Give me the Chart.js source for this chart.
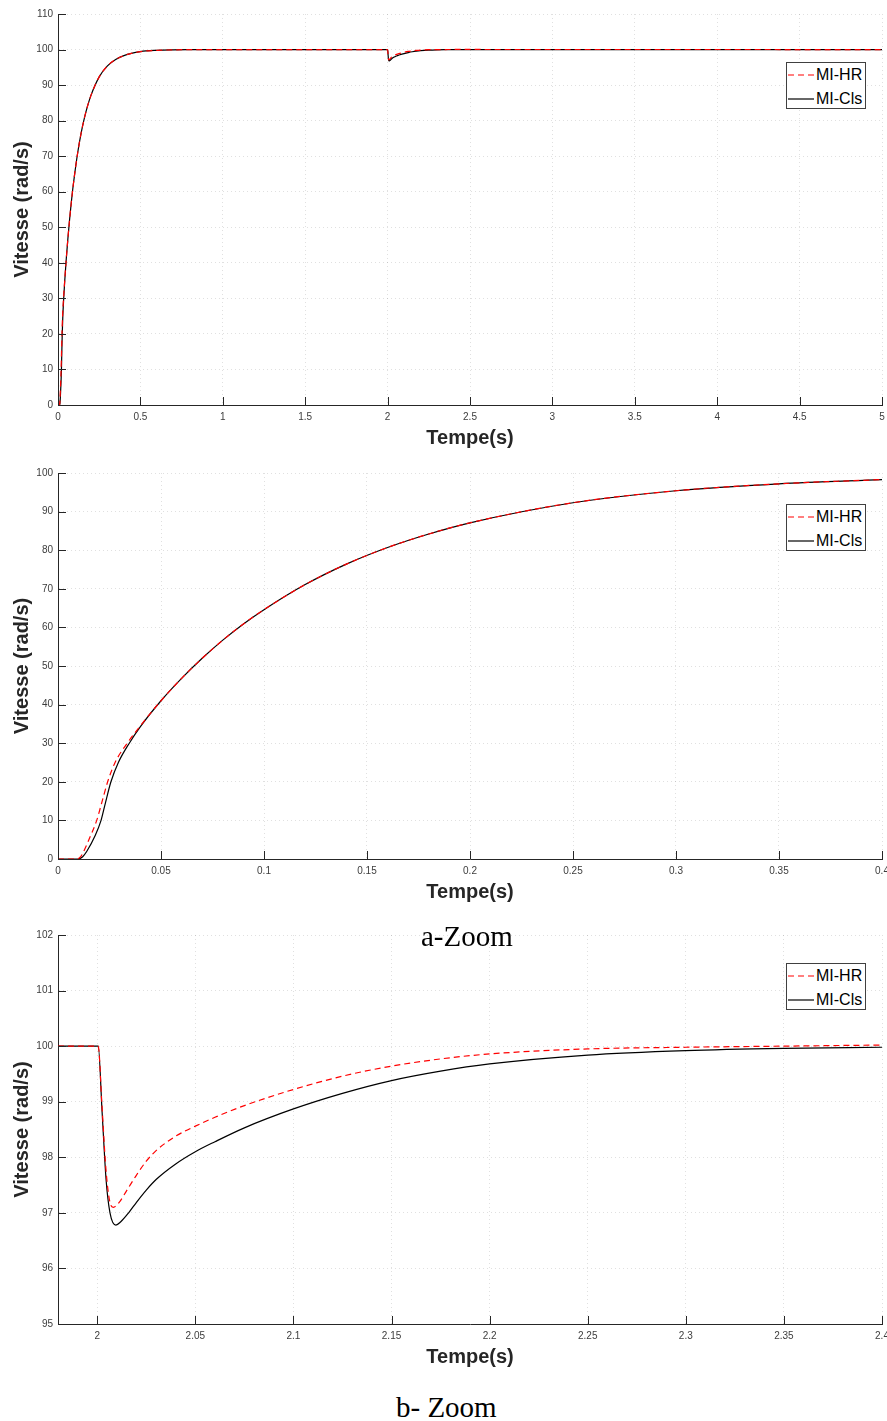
<!DOCTYPE html>
<html>
<head>
<meta charset="utf-8">
<title>Vitesse MI-HR / MI-Cls</title>
<script src="https://cdn.jsdelivr.net/npm/chart.js@4/dist/chart.umd.min.js"></script>
<style>
  html, body { margin: 0; padding: 0; background: #fff; }
  #page { position: relative; width: 887px; height: 1421px; overflow: hidden; background: #fff; }
  .plot { position: absolute; left: 0; width: 887px; }
  .legend {
    position: absolute; box-sizing: border-box; width: 80px; height: 47px;
    border: 1px solid #404040; background: #fff;
    font: 16px "Liberation Sans", Arial, sans-serif; color: #000; z-index: 2;
  }
  .legend .row { position: absolute; left: 0; height: 20px; line-height: 20px; white-space: nowrap; }
  .legend svg { position: absolute; left: 1px; top: 9px; }
  .legend span { position: absolute; left: 29px; top: 0; }
  .caption {
    position: absolute; left: 0; width: 887px; z-index: 3;
    font: 29px "Liberation Serif", "Times New Roman", serif; line-height: 29px; color: #000;
  }
</style>
</head>
<body>
<div id="page">
  <canvas id="c1" class="plot" width="887" height="460" style="top:0px"></canvas>
  <canvas id="c2" class="plot" width="887" height="454" style="top:460px"></canvas>
  <canvas id="c3" class="plot" width="887" height="459" style="top:920px"></canvas>
  <div id="leg1" class="legend" style="left:786px; top:62px"></div>
  <div id="leg2" class="legend" style="left:786px; top:504px"></div>
  <div id="leg3" class="legend" style="left:786px; top:963px"></div>
  <div class="caption" style="top:922px; left:421px; width:auto">a-Zoom</div>
  <div class="caption" style="top:1393px; left:396px; width:auto">b- Zoom</div>
</div>
<script>
// ---- Démarrage à vide (0 - 0.4 s) ----
const tDemHR  = [0, 0.009, 0.011, 0.0125, 0.0158, 0.0188, 0.0212, 0.0241, 0.0277, 0.0336, 0.04, 0.05, 0.06, 0.07, 0.08, 0.09, 0.1, 0.12, 0.14, 0.16, 0.18, 0.2, 0.25, 0.3, 0.35, 0.4];
const vDemHR  = [0, 0, 0.6, 2, 6, 10, 14.5, 20, 25, 30, 34.5, 41, 46.8, 52.0, 56.7, 60.9, 64.6, 71.1, 76.4, 80.7, 84.2, 87.1, 92.3, 95.4, 97.2, 98.3];
const tDemCls = [0, 0.0097, 0.012, 0.014, 0.018, 0.0209, 0.023, 0.0257, 0.0293, 0.0346, 0.04, 0.05, 0.06, 0.07, 0.08, 0.09, 0.1, 0.12, 0.14, 0.16, 0.18, 0.2, 0.25, 0.3, 0.35, 0.4];
const vDemCls = [0, 0, 0.6, 2, 6, 10, 14.5, 20, 25, 30, 34.3, 41, 46.8, 52.0, 56.7, 60.9, 64.6, 71.1, 76.4, 80.7, 84.2, 87.1, 92.3, 95.4, 97.2, 98.3];

// ---- Régime établi avant la charge ----
const tStab = [0.5, 0.6, 0.7, 0.8, 1.0];
const vStab = [99.4, 99.78, 99.92, 99.97, 100];

// ---- Application de la charge à t = 2 s (1.98 - 2.4 s) ----
const tChHR  = [1.98, 2.0005, 2.0023, 2.0044, 2.0064, 2.0082, 2.011, 2.015, 2.02, 2.025, 2.03, 2.04, 2.05, 2.06, 2.075, 2.1, 2.125, 2.15, 2.175, 2.2, 2.25, 2.3, 2.35, 2.4];
const vChHR  = [100, 100, 99.0, 97.8, 97.2, 97.1, 97.18, 97.4, 97.68, 97.93, 98.12, 98.38, 98.56, 98.72, 98.93, 99.22, 99.46, 99.64, 99.77, 99.86, 99.95, 99.98, 100.0, 100.02];
const tChCls = [1.98, 2.0005, 2.0025, 2.0045, 2.0065, 2.0095, 2.012, 2.016, 2.02, 2.025, 2.03, 2.04, 2.05, 2.06, 2.075, 2.1, 2.125, 2.15, 2.175, 2.2, 2.25, 2.3, 2.35, 2.4];
const vChCls = [100, 100, 98.8, 97.6, 97.0, 96.78, 96.84, 97.0, 97.19, 97.41, 97.6, 97.88, 98.1, 98.28, 98.53, 98.87, 99.15, 99.38, 99.55, 99.68, 99.84, 99.92, 99.96, 99.98];

// ---- Fin de simulation ----
const tFin = [5];
const vFin = [100];

// ---- Graduations ----
const xTicks1 = [0, 0.5, 1, 1.5, 2, 2.5, 3, 3.5, 4, 4.5, 5];
const xLabels1 = ['0', '0.5', '1', '1.5', '2', '2.5', '3', '3.5', '4', '4.5', '5'];
const yTicks1 = [0, 10, 20, 30, 40, 50, 60, 70, 80, 90, 100, 110];
const xTicks2 = [0, 0.05, 0.1, 0.15, 0.2, 0.25, 0.3, 0.35, 0.4];
const xLabels2 = ['0', '0.05', '0.1', '0.15', '0.2', '0.25', '0.3', '0.35', '0.4'];
const yTicks2 = [0, 10, 20, 30, 40, 50, 60, 70, 80, 90, 100];
const xTicks3 = [2, 2.05, 2.1, 2.15, 2.2, 2.25, 2.3, 2.35, 2.4];
const xLabels3 = ['2', '2.05', '2.1', '2.15', '2.2', '2.25', '2.3', '2.35', '2.4'];
const yTicks3 = [95, 96, 97, 98, 99, 100, 101, 102];

const seriesNames = ['MI-HR', 'MI-Cls'];
const seriesColors = ['#ff0000', '#000000'];
const seriesDash = [[6, 4], []];

const FONT = '"Liberation Sans", Arial, Helvetica, sans-serif';
const AXIS = '#262626';
const TICKTXT = '#3c3c3c';
const GRID = 'rgba(38,38,38,0.14)';

const pts = (ts, vs) => ts.map((t, i) => ({ x: t, y: vs[i] }));

// Graduations tournées vers l'intérieur du tracé
const ticksInward = {
  id: 'ticksInward',
  afterDraw(chart) {
    const { ctx, chartArea: a, scales: { x, y } } = chart;
    ctx.save();
    ctx.strokeStyle = AXIS;
    ctx.lineWidth = 1;
    ctx.setLineDash([]);
    ctx.beginPath();
    x.ticks.forEach(t => {
      const px = Math.round(x.getPixelForValue(t.value)) + 0.5;
      ctx.moveTo(px, a.bottom);
      ctx.lineTo(px, a.bottom - 8);
    });
    y.ticks.forEach(t => {
      const py = Math.round(y.getPixelForValue(t.value)) + 0.5;
      ctx.moveTo(a.left, py);
      ctx.lineTo(a.left + 8, py);
    });
    ctx.stroke();
    ctx.restore();
  }
};

function axisX(min, max, ticks, labels) {
  return {
    type: 'linear', min, max,
    afterBuildTicks: s => { s.ticks = ticks.map(v => ({ value: v })); },
    afterFit: s => { s.height = 55; s.paddingLeft = 0; s.paddingRight = 0; },
    ticks: {
      autoSkip: false, maxRotation: 0, minRotation: 0, padding: 6, color: TICKTXT,
      font: { family: FONT, size: 10 },
      callback: (v, i) => labels[i]
    },
    grid: { color: GRID, lineWidth: 1, drawTicks: false },
    border: { display: true, color: AXIS, width: 1, dash: [1, 3] },
    title: {
      display: true, text: 'Tempe(s)', color: AXIS,
      font: { family: FONT, size: 20, weight: 'bold' },
      padding: { top: 0, bottom: 10 }
    }
  };
}

function axisY(min, max, ticks) {
  return {
    type: 'linear', min, max,
    afterBuildTicks: s => { s.ticks = ticks.map(v => ({ value: v })); },
    afterFit: s => { s.width = 58; s.paddingTop = 0; s.paddingBottom = 0; },
    ticks: {
      autoSkip: false, padding: 5, color: TICKTXT,
      font: { family: FONT, size: 10 },
      callback: (v, i) => String(ticks[i])
    },
    grid: { color: GRID, lineWidth: 1, drawTicks: false },
    border: { display: true, color: AXIS, width: 1, dash: [1, 3] },
    title: {
      display: true, text: 'Vitesse (rad/s)', color: AXIS,
      font: { family: FONT, size: 20, weight: 'bold' },
      padding: { top: 10, bottom: 0 }
    }
  };
}

function makeDatasets(hr, cls) {
  return [hr, cls].map((d, i) => ({
    label: seriesNames[i],
    data: d,
    borderColor: seriesColors[i],
    borderWidth: 1.2,
    borderDash: seriesDash[i],
    pointRadius: 0,
    fill: false,
    cubicInterpolationMode: 'monotone'
  }));
}

function makeChart(id, padTop, datasets, xAxis, yAxis) {
  return new Chart(document.getElementById(id), {
    type: 'line',
    data: { datasets },
    options: {
      responsive: false,
      animation: false,
      events: [],
      layout: { padding: { top: padTop, right: 5, bottom: 0, left: 0 } },
      scales: { x: xAxis, y: yAxis },
      plugins: { legend: { display: false }, tooltip: { enabled: false } }
    },
    plugins: [ticksInward]
  });
}

function makeLegend(id) {
  const box = document.getElementById(id);
  seriesNames.forEach((name, i) => {
    const row = document.createElement('div');
    row.className = 'row';
    row.style.top = (2 + i * 24) + 'px';
    const dash = seriesDash[i].length ? `stroke-dasharray="${seriesDash[i].join(' ')}"` : '';
    row.innerHTML =
      `<svg width="26" height="2"><line x1="0" y1="1" x2="26" y2="1" stroke="${seriesColors[i]}" stroke-width="1.2" ${dash}/></svg>` +
      `<span>${name}</span>`;
    box.appendChild(row);
  });
}

// 1) Simulation complète 0 - 5 s
makeChart('c1', 14,
  makeDatasets(
    pts([...tDemHR, ...tStab, ...tChHR, ...tFin], [...vDemHR, ...vStab, ...vChHR, ...vFin]),
    pts([...tDemCls, ...tStab, ...tChCls, ...tFin], [...vDemCls, ...vStab, ...vChCls, ...vFin])
  ),
  axisX(0, 5, xTicks1, xLabels1), axisY(0, 110, yTicks1));

// 2) Zoom sur le démarrage
makeChart('c2', 13,
  makeDatasets(pts(tDemHR, vDemHR), pts(tDemCls, vDemCls)),
  axisX(0, 0.4, xTicks2, xLabels2), axisY(0, 100, yTicks2));

// 3) Zoom sur l'application de la charge
makeChart('c3', 15,
  makeDatasets(pts(tChHR, vChHR), pts(tChCls, vChCls)),
  axisX(1.98, 2.4, xTicks3, xLabels3), axisY(95, 102, yTicks3));

makeLegend('leg1');
makeLegend('leg2');
makeLegend('leg3');
</script>
</body>
</html>
